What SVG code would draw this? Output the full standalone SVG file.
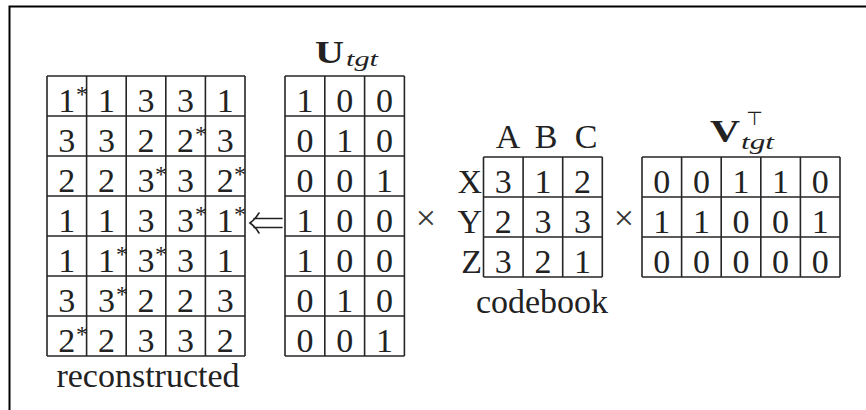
<svg xmlns="http://www.w3.org/2000/svg" width="866" height="410" viewBox="0 0 866 410">
  <style>
    .grid { fill: none; stroke: #262626; stroke-width: 1.6; }
    .frame { fill: none; stroke: #000; stroke-width: 2; }
    .serif { font-family: 'Liberation Serif', 'DejaVu Serif', serif; fill: #222; }
    .num { font-size: 34px; text-anchor: middle; }
    .star { font-size: 24px; }
    .lbl { font-size: 34px; }
    .bold { font-weight: bold; font-size: 31px; }
    .sub { font-style: italic; font-size: 22px; }
    .op { font-size: 36px; fill: #333; text-anchor: middle; }
    .arrow { fill: none; stroke: #222; stroke-width: 1.6; stroke-linecap: round; }
  </style>

  <!-- outer frame (top and left edges) -->
  <path class="frame" d="M9.5,410 V6.5 H866"/>

  <!-- reconstructed matrix: 7 rows x 5 columns -->
  <g id="reconstructed" class="serif">
    <path class="grid" d="M47,76V356M86.6,76V356M126.2,76V356M165.8,76V356M205.4,76V356M245,76V356
      M47,76H245M47,116H245M47,156H245M47,196H245M47,236H245M47,276H245M47,316H245M47,356H245"/>
    <g>
      <text class="num" x="66.8" y="112">1</text><text class="star" x="76" y="102">*</text>
      <text class="num" x="106.4" y="112">1</text>
      <text class="num" x="146" y="112">3</text>
      <text class="num" x="185.6" y="112">3</text>
      <text class="num" x="225.2" y="112">1</text>

      <text class="num" x="66.8" y="152">3</text>
      <text class="num" x="106.4" y="152">3</text>
      <text class="num" x="146" y="152">2</text>
      <text class="num" x="185.6" y="152">2</text><text class="star" x="195" y="142">*</text>
      <text class="num" x="225.2" y="152">3</text>

      <text class="num" x="66.8" y="192">2</text>
      <text class="num" x="106.4" y="192">2</text>
      <text class="num" x="146" y="192">3</text><text class="star" x="155" y="182">*</text>
      <text class="num" x="185.6" y="192">3</text>
      <text class="num" x="225.2" y="192">2</text><text class="star" x="234" y="182">*</text>

      <text class="num" x="66.8" y="232">1</text>
      <text class="num" x="106.4" y="232">1</text>
      <text class="num" x="146" y="232">3</text>
      <text class="num" x="185.6" y="232">3</text><text class="star" x="195" y="222">*</text>
      <text class="num" x="225.2" y="232">1</text><text class="star" x="234" y="222">*</text>

      <text class="num" x="66.8" y="272">1</text>
      <text class="num" x="106.4" y="272">1</text><text class="star" x="116" y="262">*</text>
      <text class="num" x="146" y="272">3</text><text class="star" x="155" y="262">*</text>
      <text class="num" x="185.6" y="272">3</text>
      <text class="num" x="225.2" y="272">1</text>

      <text class="num" x="66.8" y="312">3</text>
      <text class="num" x="106.4" y="312">3</text><text class="star" x="116" y="302">*</text>
      <text class="num" x="146" y="312">2</text>
      <text class="num" x="185.6" y="312">2</text>
      <text class="num" x="225.2" y="312">3</text>

      <text class="num" x="66.8" y="352">2</text><text class="star" x="76" y="342">*</text>
      <text class="num" x="106.4" y="352">2</text>
      <text class="num" x="146" y="352">3</text>
      <text class="num" x="185.6" y="352">3</text>
      <text class="num" x="225.2" y="352">2</text>
    </g>
    <text class="lbl" x="148" y="387" text-anchor="middle">reconstructed</text>
  </g>

  <!-- U_tgt: 7 rows x 3 columns -->
  <g id="u-tgt" class="serif">
    <text class="bold" x="315" y="63" textLength="29" lengthAdjust="spacingAndGlyphs">U</text>
    <text class="sub" x="346" y="66" textLength="32" lengthAdjust="spacingAndGlyphs">tgt</text>
    <path class="grid" d="M285,76V356M324.8,76V356M364.6,76V356M404.4,76V356
      M285,76H404.4M285,116H404.4M285,156H404.4M285,196H404.4M285,236H404.4M285,276H404.4M285,316H404.4M285,356H404.4"/>
    <text class="num" x="304.9" y="112">1</text><text class="num" x="344.7" y="112">0</text><text class="num" x="384.5" y="112">0</text>
    <text class="num" x="304.9" y="152">0</text><text class="num" x="344.7" y="152">1</text><text class="num" x="384.5" y="152">0</text>
    <text class="num" x="304.9" y="192">0</text><text class="num" x="344.7" y="192">0</text><text class="num" x="384.5" y="192">1</text>
    <text class="num" x="304.9" y="232">1</text><text class="num" x="344.7" y="232">0</text><text class="num" x="384.5" y="232">0</text>
    <text class="num" x="304.9" y="272">1</text><text class="num" x="344.7" y="272">0</text><text class="num" x="384.5" y="272">0</text>
    <text class="num" x="304.9" y="312">0</text><text class="num" x="344.7" y="312">1</text><text class="num" x="384.5" y="312">0</text>
    <text class="num" x="304.9" y="352">0</text><text class="num" x="344.7" y="352">0</text><text class="num" x="384.5" y="352">1</text>
  </g>

  <!-- codebook: rows X/Y/Z, columns A/B/C -->
  <g id="codebook" class="serif">
    <text class="num" x="508" y="148">A</text>
    <text class="num" x="546" y="148">B</text>
    <text class="num" x="586" y="148">C</text>
    <text class="lbl" x="482" y="193" text-anchor="end">X</text>
    <text class="lbl" x="482" y="233" text-anchor="end">Y</text>
    <text class="lbl" x="482" y="273" text-anchor="end">Z</text>
    <path class="grid" d="M483.5,157V277M523.1,157V277M562.7,157V277M602.3,157V277
      M483.5,157H602.3M483.5,197H602.3M483.5,237H602.3M483.5,277H602.3"/>
    <text class="num" x="503.3" y="193">3</text><text class="num" x="542.9" y="193">1</text><text class="num" x="582.5" y="193">2</text>
    <text class="num" x="503.3" y="233">2</text><text class="num" x="542.9" y="233">3</text><text class="num" x="582.5" y="233">3</text>
    <text class="num" x="503.3" y="273">3</text><text class="num" x="542.9" y="273">2</text><text class="num" x="582.5" y="273">1</text>
    <text class="lbl" x="542" y="313" text-anchor="middle">codebook</text>
  </g>

  <!-- V_tgt transposed: 3 rows x 5 columns -->
  <g id="v-tgt" class="serif">
    <text class="bold" x="710" y="142" textLength="30" lengthAdjust="spacingAndGlyphs">V</text>
    <text class="sub" x="741" y="149" textLength="33" lengthAdjust="spacingAndGlyphs">tgt</text>
    <text x="754.5" y="125" text-anchor="middle" font-family="DejaVu Sans, sans-serif" font-size="19" fill="#222">⊤</text>
    <path class="grid" d="M642,157V277M681.6,157V277M721.2,157V277M760.8,157V277M800.4,157V277M840,157V277
      M642,157H840M642,197H840M642,237H840M642,277H840"/>
    <text class="num" x="661.8" y="193">0</text><text class="num" x="701.4" y="193">0</text><text class="num" x="741" y="193">1</text><text class="num" x="780.6" y="193">1</text><text class="num" x="820.2" y="193">0</text>
    <text class="num" x="661.8" y="233">1</text><text class="num" x="701.4" y="233">1</text><text class="num" x="741" y="233">0</text><text class="num" x="780.6" y="233">0</text><text class="num" x="820.2" y="233">1</text>
    <text class="num" x="661.8" y="273">0</text><text class="num" x="701.4" y="273">0</text><text class="num" x="741" y="273">0</text><text class="num" x="780.6" y="273">0</text><text class="num" x="820.2" y="273">0</text>
  </g>

  <!-- operators and the implication arrow -->
  <g id="connectors" class="serif">
    <path class="arrow" d="M259,213 Q255,219.5 250,223 Q255,226.5 259,233 M254,218.5 H282 M254,227.5 H282"/>
    <text class="op" x="426" y="230">×</text>
    <text class="op" x="624" y="230">×</text>
  </g>
</svg>
